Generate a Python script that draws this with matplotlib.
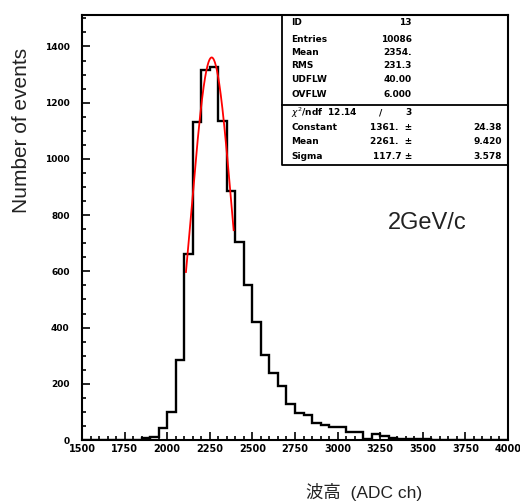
import numpy as np
import matplotlib
matplotlib.use("Agg")
from matplotlib import pyplot as plt
from matplotlib.ticker import MultipleLocator

# histogram: 50 bins of 50 ADC ch from 1500 to 4000
bin_edges = list(range(1500, 4001, 50))
counts = [0, 0, 0, 0, 0, 0, 0,              # 1500-1850
          8, 9, 43, 98, 284, 662, 1131,        # 1850-2200
          1315, 1326, 1135, 887, 703, 550, 421,  # 2200-2550
          302, 237, 191, 128, 97, 89, 61,      # 2550-2900
          52, 47, 47, 28, 28, 5, 20,           # 2900-3250
          15, 6, 5, 3, 3, 2, 1,                # 3250-3600
          1, 1, 0, 0, 0, 0, 0, 0]              # 3600-4000

# gaussian fit shown in the stats box
fit_const = 1361.
fit_mean = 2261.
fit_sigma = 117.7
fit_range = (2110, 2390)

stat_labels = ["ID", "Entries", "Mean", "RMS", "UDFLW", "OVFLW"]
stat_values = ["13", "10086", "2354.", "231.3", "40.00", "6.000"]
fit_labels = ["Constant", "Mean", "Sigma"]
fit_values = ["1361.  \u00b1", "2261.  \u00b1", "117.7 \u00b1"]
fit_errors = ["24.38", "9.420", "3.578"]

fig = plt.figure(figsize=(5.2, 5.04), dpi=100)
ax = fig.add_axes([82/520, 1-440/504, 426/520, 425/504])

ax.stairs(counts, bin_edges, color="black", lw=1.7)
xf = np.linspace(fit_range[0], fit_range[1], 200)
ax.plot(xf, fit_const*np.exp(-0.5*((xf-fit_mean)/fit_sigma)**2), color="red", lw=1.3)

ax.set_xlim(1500, 4000)
ax.set_ylim(0, 1512)
ax.xaxis.set_major_locator(MultipleLocator(250))
ax.xaxis.set_minor_locator(MultipleLocator(50))
ax.yaxis.set_major_locator(MultipleLocator(200))
ax.yaxis.set_minor_locator(MultipleLocator(50))
ax.tick_params(which="both", direction="in", top=False, right=False, width=1.2)
ax.tick_params(which="major", length=6)
ax.tick_params(which="minor", length=3)
ax.tick_params(axis="x", pad=3)
ax.tick_params(axis="y", pad=9)
for lab in ax.get_xticklabels():
    lab.set_fontsize(7)
    lab.set_fontweight("bold")
for lab in ax.get_yticklabels():
    lab.set_fontsize(6.5)
    lab.set_fontweight("bold")
for s in ax.spines.values():
    s.set_linewidth(1.5)

# stats box
def yy(py):
    return (440 - py) / 425.

box_left = (282 - 82) / 426.
ax.plot([box_left, box_left, 1], [1, yy(165), yy(165)], transform=ax.transAxes,
        color="black", lw=1.3, clip_on=False)
ax.plot([box_left, 1], [yy(105), yy(105)], transform=ax.transAxes,
        color="black", lw=1.3, clip_on=False)

tk = dict(transform=ax.transAxes, fontsize=6.5, fontweight="bold", va="center")
lx = (291 - 82) / 426.
vx = (412 - 82) / 426.
ex = (502 - 82) / 426.
for lab, val, py in zip(stat_labels, stat_values, [22.7, 39.3, 52.7, 66, 80, 94.3]):
    ax.text(lx, yy(py), lab, ha="left", **tk)
    ax.text(vx, yy(py), val, ha="right", **tk)
ax.text(lx, yy(112.7), r"$\chi^2$/ndf  12.14", ha="left", **tk)
ax.text((381 - 82) / 426., yy(112.7), "/", ha="center", **tk)
ax.text(vx, yy(112.7), "3", ha="right", **tk)
for lab, val, err, py in zip(fit_labels, fit_values, fit_errors, [127.7, 141.7, 156.7]):
    ax.text(lx, yy(py), lab, ha="left", **tk)
    ax.text(vx, yy(py), val, ha="right", **tk)
    ax.text(ex, yy(py), err, ha="right", **tk)

ax.text((388 - 82) / 426., yy(223), "2GeV/c", fontsize=17, family="Liberation Sans",
        ha="left", va="center", transform=ax.transAxes, color="#222222")

fig.text(22/520, 1-130/504, "Number of events", rotation=90, fontsize=15,
         family="Liberation Sans", ha="center", va="center", color="#222222")
fig.text(364/520, 1-492/504, "波高  (ADC ch)", fontsize=12.5,
         family=["Liberation Sans", "Noto Sans CJK JP"], ha="center", va="center",
         color="#222222")

fig.savefig("out.png", dpi=100)
